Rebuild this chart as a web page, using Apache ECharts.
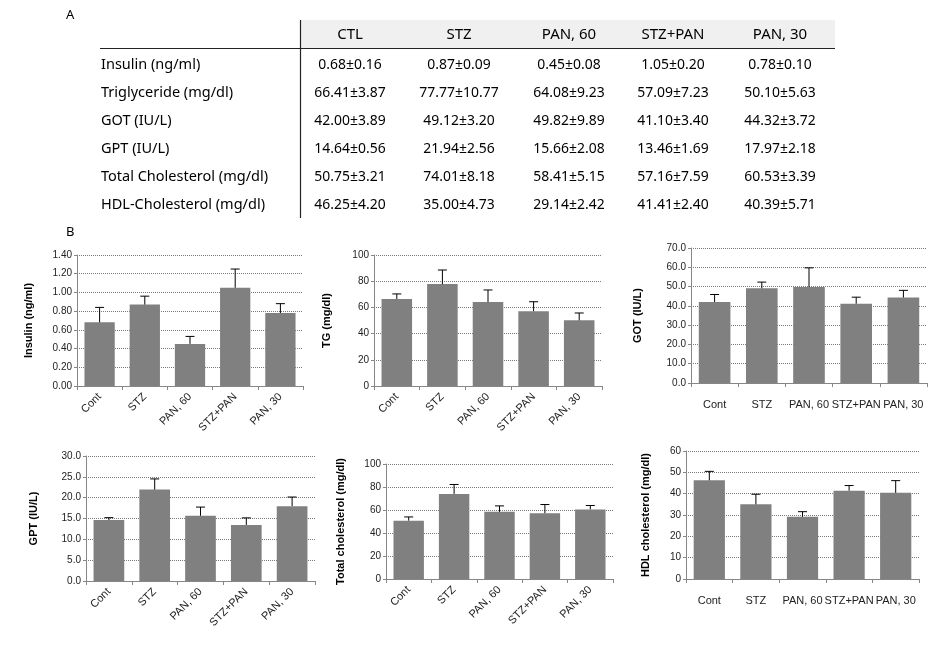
<!DOCTYPE html>
<html><head><meta charset="utf-8">
<script src="https://cdn.jsdelivr.net/npm/echarts@6/dist/echarts.min.js"></script>
<style>html,body{margin:0;padding:0;background:#fff}#c{width:943px;height:654px}</style>
</head><body><div id="c"></div>
<script>
// ---------- DATA ----------
const tableCols = ['CTL', 'STZ', 'PAN, 60', 'STZ+PAN', 'PAN, 30'];
const chartCategories = ['Cont', 'STZ', 'PAN, 60', 'STZ+PAN', 'PAN, 30'];
const rowLabels = ['Insulin (ng/ml)', 'Triglyceride (mg/dl)', 'GOT (IU/L)', 'GPT (IU/L)', 'Total Cholesterol (mg/dl)', 'HDL-Cholesterol (mg/dl)'];
const insulinMean = [0.68, 0.87, 0.45, 1.05, 0.78];
const insulinSD   = [0.16, 0.09, 0.08, 0.20, 0.10];
const tgMean      = [66.41, 77.77, 64.08, 57.09, 50.10];
const tgSD        = [3.87, 10.77, 9.23, 7.23, 5.63];
const gotMean     = [42.00, 49.12, 49.82, 41.10, 44.32];
const gotSD       = [3.89, 3.20, 9.89, 3.40, 3.72];
const gptMean     = [14.64, 21.94, 15.66, 13.46, 17.97];
const gptSD       = [0.56, 2.56, 2.08, 1.69, 2.18];
const tcMean      = [50.75, 74.01, 58.41, 57.16, 60.53];
const tcSD        = [3.21, 8.18, 5.15, 7.59, 3.39];
const hdlMean     = [46.25, 35.00, 29.14, 41.41, 40.39];
const hdlSD       = [4.20, 4.73, 2.42, 2.40, 5.71];
const axisNames   = ['Insulin (ng/ml)', 'TG (mg/dl)', 'GOT (IU/L)', 'GPT (IU/L)', 'Total cholesterol (mg/dl)', 'HDL cholesterol (mg/dl)'];
const yMax        = [1.4, 100, 70, 30, 100, 60];
const yStep       = [0.2, 20, 10, 5, 20, 10];
const yDecimals   = [2, 0, 1, 1, 0, 0];

// ---------- LAYOUT ----------
const means = [insulinMean, tgMean, gotMean, gptMean, tcMean, hdlMean];
const sds = [insulinSD, tgSD, gotSD, gptSD, tcSD, hdlSD];
const grids = [
  {left: 77,  top: 255, width: 226, height: 131, rot: 45, gap: 43},
  {left: 374, top: 255, width: 228, height: 131, rot: 45, gap: 42},
  {left: 691, top: 248, width: 236, height: 135, rot: 0,  gap: 48},
  {left: 86,  top: 456, width: 229, height: 125, rot: 45, gap: 47},
  {left: 386, top: 464, width: 227, height: 115, rot: 45, gap: 40},
  {left: 686, top: 451, width: 233, height: 128, rot: 0,  gap: 35}
];
const axisColor = '#868686';
const tickFont = 'Liberation Sans';

const option = {
  animation: false,
  backgroundColor: '#fff',
  grid: [], xAxis: [], yAxis: [], series: [], graphic: []
};

grids.forEach((g, i) => {
  option.grid.push({left: g.left, top: g.top, width: g.width, height: g.height, containLabel: false});
  option.xAxis.push({
    type: 'category', gridIndex: i, data: chartCategories,
    axisLine: {lineStyle: {color: axisColor}},
    axisTick: {show: true, length: 4, lineStyle: {color: axisColor}},
    axisLabel: {interval: 0, rotate: g.rot, margin: g.rot ? 9 : 16, fontSize: 11, color: '#222', fontFamily: tickFont}
  });
  option.yAxis.push({
    type: 'value', gridIndex: i, min: 0, max: yMax[i], interval: yStep[i],
    name: axisNames[i], nameLocation: 'middle', nameRotate: 90, nameGap: g.gap,
    nameTextStyle: {fontSize: 11, fontWeight: 'bold', color: '#000', fontFamily: 'Liberation Sans'},
    axisLine: {show: true, lineStyle: {color: axisColor}},
    axisTick: {show: true, length: 3, lineStyle: {color: axisColor}},
    axisLabel: {fontSize: 10, color: '#222', margin: 5, fontFamily: tickFont,
      formatter: v => v.toFixed(yDecimals[i])},
    splitLine: {show: true, lineStyle: {type: 'dotted', color: '#7a7a7a', width: 1}}
  });
  option.series.push({
    type: 'bar', xAxisIndex: i, yAxisIndex: i, data: means[i], barWidth: '67%',
    itemStyle: {color: '#808080'}, z: 2
  });
  option.series.push({
    type: 'custom', xAxisIndex: i, yAxisIndex: i, z: 3,
    data: means[i].map((m, k) => [k, m, sds[i][k]]),
    encode: {x: 0, y: 1},
    renderItem: (params, api) => {
      const x = api.value(0), m = api.value(1), sd = api.value(2);
      const p0 = api.coord([x, m]);
      const p1 = api.coord([x, m + sd]);
      const st = {stroke: '#000', lineWidth: 1};
      return {type: 'group', children: [
        {type: 'line', shape: {x1: p0[0], y1: p0[1], x2: p1[0], y2: p1[1]}, style: st},
        {type: 'line', shape: {x1: p1[0] - 4.5, y1: p1[1], x2: p1[0] + 4.5, y2: p1[1]}, style: st}
      ]};
    }
  });
});

// ---------- TABLE (graphic text built from arrays) ----------
const colX = [350, 459, 569, 673, 780];
const rowY0 = 65, rowStep = 28;
const labelFont = '14.5px "Noto Sans"';
const numFont = '15px "Noto Sans"';
const G = option.graphic;
G.push({type: 'rect', shape: {x: 300, y: 20, width: 535, height: 28}, style: {fill: '#f0f0f0'}, silent: true});
G.push({type: 'line', shape: {x1: 100, y1: 48.5, x2: 835, y2: 48.5}, style: {stroke: '#222', lineWidth: 1.2}});
G.push({type: 'line', shape: {x1: 300.5, y1: 20, x2: 300.5, y2: 218}, style: {stroke: '#222', lineWidth: 1.2}});
G.push({type: 'text', x: 66, y: 15, style: {text: 'A', font: '13px "Noto Sans"', fill: '#000', verticalAlign: 'middle'}});
G.push({type: 'text', x: 66, y: 232, style: {text: 'B', font: '13px "Noto Sans"', fill: '#000', verticalAlign: 'middle'}});
tableCols.forEach((c, j) => {
  G.push({type: 'text', x: colX[j], y: 35, style: {text: c, font: numFont, fill: '#000', align: 'center', verticalAlign: 'middle'}});
});
rowLabels.forEach((r, i) => {
  const y = rowY0 + i * rowStep;
  G.push({type: 'text', x: 101, y: y, style: {text: r, font: labelFont, fill: '#000', verticalAlign: 'middle'}});
  means[i].forEach((m, j) => {
    G.push({type: 'text', x: colX[j], y: y, scaleX: 0.93, style: {text: m.toFixed(2) + '±' + sds[i][j].toFixed(2), font: numFont, fill: '#000', align: 'center', verticalAlign: 'middle'}});
  });
});

const chart = echarts.init(document.getElementById('c'), null, {renderer: 'canvas'});
chart.setOption(option);
</script>
</body></html>
